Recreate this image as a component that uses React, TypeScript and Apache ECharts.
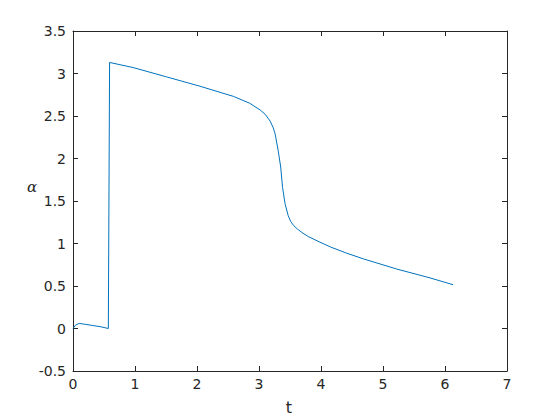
import React, { useEffect, useRef } from "react";
import * as echarts from "echarts";

const tValues = [0, 0.04, 0.1, 0.19, 0.32, 0.45, 0.57, 0.58, 0.59, 0.97, 1.51, 2.05, 2.59, 2.85, 3.02, 3.1, 3.18, 3.23, 3.26, 3.31, 3.35, 3.38, 3.42, 3.47, 3.51, 3.56, 3.62, 3.71, 3.8, 3.97, 4.15, 4.4, 4.68, 5.22, 5.76, 6.13];
const alphaValues = [0, 0.04, 0.06, 0.05, 0.035, 0.02, 0.0, 0.0, 3.13, 3.07, 2.96, 2.85, 2.73, 2.65, 2.57, 2.52, 2.44, 2.36, 2.29, 2.09, 1.9, 1.66, 1.47, 1.33, 1.26, 1.21, 1.17, 1.12, 1.08, 1.02, 0.96, 0.89, 0.82, 0.7, 0.595, 0.515];
const xTicks = [0, 1, 2, 3, 4, 5, 6, 7];
const yTicks = [-0.5, 0, 0.5, 1, 1.5, 2, 2.5, 3, 3.5];

const axisColor = "#262626";
const font = "DejaVu Sans";

export default function App() {
  const ref = useRef<HTMLDivElement>(null);
  useEffect(() => {
    if (!ref.current) return;
    const chart = echarts.init(ref.current, null, { renderer: "svg" });
    const data = tValues.map((t, i) => [t, alphaValues[i]]);
    const baseX = {
      type: "value" as const,
      min: xTicks[0],
      max: xTicks[xTicks.length - 1],
      interval: 1,
      splitLine: { show: false },
      axisLine: { show: true, onZero: false, lineStyle: { color: axisColor, width: 1 } },
      axisTick: { show: true, inside: true, length: 5, lineStyle: { color: axisColor } },
    };
    const baseY = {
      type: "value" as const,
      min: yTicks[0],
      max: yTicks[yTicks.length - 1],
      interval: 0.5,
      splitLine: { show: false },
      axisLine: { show: true, onZero: false, lineStyle: { color: axisColor, width: 1 } },
      axisTick: { show: true, inside: true, length: 5, lineStyle: { color: axisColor } },
    };
    chart.setOption({
      animation: false,
      backgroundColor: "#ffffff",
      grid: { left: 73, right: 53, top: 31, bottom: 49, containLabel: false },
      xAxis: [
        {
          ...baseX,
          position: "bottom",
          axisLabel: { color: axisColor, fontFamily: font, fontSize: 14, margin: 6 },
        },
        {
          ...baseX,
          position: "top",
          axisLabel: { show: false },
        },
      ],
      yAxis: [
        {
          ...baseY,
          position: "left",
          axisLabel: { color: axisColor, fontFamily: font, fontSize: 14, margin: 7 },
        },
        {
          ...baseY,
          position: "right",
          axisLabel: { show: false },
        },
      ],
      graphic: [
        {
          type: "text",
          x: 289,
          y: 407,
          style: {
            text: "t",
            fontFamily: font,
            fontSize: 16,
            fill: axisColor,
            textAlign: "center",
            textVerticalAlign: "middle",
          },
        },
        {
          type: "text",
          x: 32,
          y: 187,
          style: {
            text: "α",
            fontFamily: "DejaVu Serif",
            fontStyle: "italic",
            fontSize: 15,
            fill: axisColor,
            textAlign: "center",
            textVerticalAlign: "middle",
          },
        },
      ],
      series: [
        {
          type: "line",
          data,
          showSymbol: false,
          symbol: "none",
          lineStyle: { color: "#0072BD", width: 1 },
          xAxisIndex: 0,
          yAxisIndex: 0,
        },
      ],
    });
    return () => chart.dispose();
  }, []);
  return <div ref={ref} style={{ width: 560, height: 420, position: "absolute", left: 0, top: 0 }} />;
}
